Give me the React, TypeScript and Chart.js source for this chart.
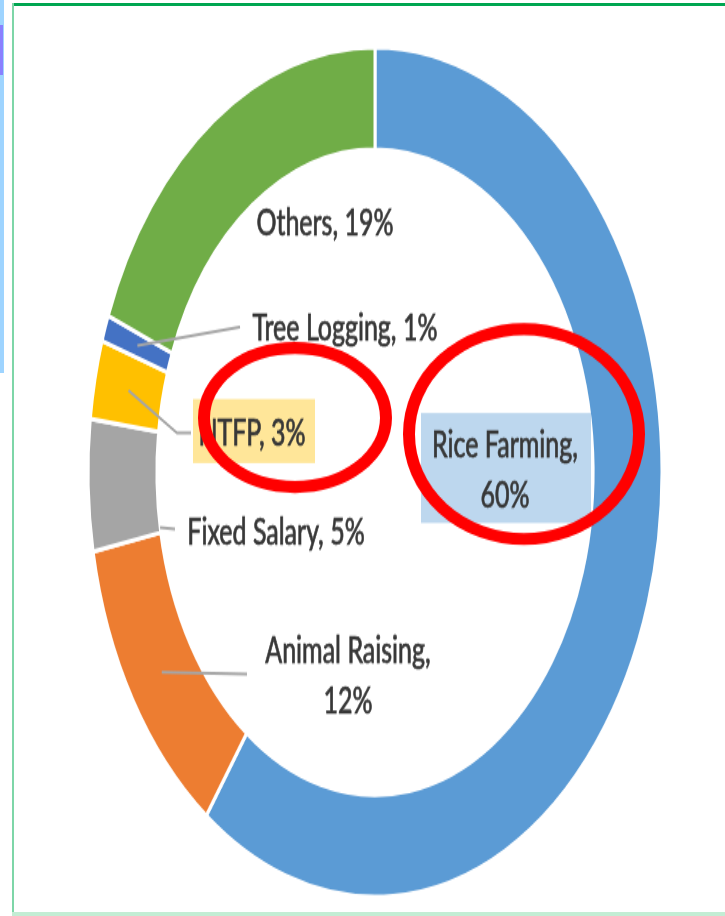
import React, { useEffect, useRef } from "react";
import { Chart, registerables } from "chart.js";

Chart.register(...registerables);

// ---------- DATA ----------
const categories = ["Rice Farming", "Animal Raising", "Fixed Salary", "NTFP", "Tree Logging", "Others"];
const values = [60, 12, 5, 3, 1, 19];
const colors = ["#5B9BD5", "#ED7D31", "#A5A5A5", "#FFC000", "#4472C4", "#70AD47"];

// ---------- LAYOUT ----------
const W = 725;
const DISPLAY_H = 916;
const H = 619; // internal canvas height, stretched vertically by CSS
const SY = DISPLAY_H / H;
const iy = (d: number) => d / SY; // display y -> internal y

const FONT = '25px Lato, "Open Sans", "DejaVu Sans", sans-serif';
const TEXT_COLOR = "#383838";
const LEADER_COLOR = "#A6A6A6";

type LabelLayout = {
  lines: (label: string, v: number) => string[];
  x: number; // center x of text
  baselines: number[]; // display y
  box?: { x0: number; y0: number; x1: number; y1: number; fill: string };
  leader?: { t: number; r: "mid" | "inner"; pts: [number, number][] };
};

const labelLayouts: LabelLayout[] = [
  {
    lines: (c, v) => [c + ",", v + "%"],
    x: 505,
    baselines: [457, 508],
    box: { x0: 421, y0: 413, x1: 591, y1: 523, fill: "#BDD7EE" },
  },
  {
    lines: (c, v) => [c + ",", v + "%"],
    x: 348,
    baselines: [663, 713],
    leader: { t: 0.5, r: "mid", pts: [[247, 674]] },
  },
  {
    lines: (c, v) => [c + ", " + v + "%"],
    x: 276,
    baselines: [544],
    leader: { t: 0.05, r: "inner", pts: [[175, 529]] },
  },
  {
    lines: (c, v) => [c + ", " + v + "%"],
    x: 252,
    baselines: [446],
    box: { x0: 193, y0: 399, x1: 315, y1: 463, fill: "#FFE699" },
    leader: { t: 0.5, r: "mid", pts: [[177, 433], [191, 433]] },
  },
  {
    lines: (c, v) => [c + ", " + v + "%"],
    x: 345,
    baselines: [341],
    leader: { t: 0.5, r: "mid", pts: [[240, 327]] },
  },
  {
    lines: (c, v) => [c + ", " + v + "%"],
    x: 325,
    baselines: [235],
  },
];

const redEllipses = [
  { cx: 295, cy: 417.5, rx: 91, ry: 69.5 },
  { cx: 524, cy: 434, rx: 115, ry: 105 },
];

const overlayPlugin = {
  id: "overlay",
  afterDraw(chart: any) {
    const ctx: CanvasRenderingContext2D = chart.ctx;
    const meta = chart.getDatasetMeta(0);
    ctx.save();
    labelLayouts.forEach((lay, i) => {
      const arc = meta.data[i] as any;
      const p = arc.getProps(["x", "y", "startAngle", "endAngle", "innerRadius", "outerRadius"], true);
      if (lay.box) {
        ctx.fillStyle = lay.box.fill;
        ctx.fillRect(lay.box.x0, iy(lay.box.y0), lay.box.x1 - lay.box.x0, iy(lay.box.y1) - iy(lay.box.y0));
      }
      if (lay.leader) {
        const a = p.startAngle + (p.endAngle - p.startAngle) * lay.leader.t;
        const r = lay.leader.r === "mid" ? (p.innerRadius + p.outerRadius) / 2 : p.innerRadius;
        ctx.beginPath();
        ctx.moveTo(p.x + r * Math.cos(a), p.y + r * Math.sin(a));
        lay.leader.pts.forEach(([x, y]) => ctx.lineTo(x, iy(y)));
        ctx.strokeStyle = LEADER_COLOR;
        ctx.lineWidth = 2;
        ctx.stroke();
      }
      ctx.fillStyle = TEXT_COLOR;
      ctx.strokeStyle = TEXT_COLOR;
      ctx.lineWidth = 0.6;
      ctx.font = FONT;
      ctx.textAlign = "center";
      ctx.textBaseline = "alphabetic";
      const lines = lay.lines(categories[i], values[i]);
      lines.forEach((ln, k) => {
        ctx.fillText(ln, lay.x, iy(lay.baselines[k]));
        ctx.strokeText(ln, lay.x, iy(lay.baselines[k]));
      });
    });
    // red annotation ellipses (drawn in display space so the stroke is even)
    ctx.scale(1, 1 / SY);
    ctx.strokeStyle = "#FF0000";
    ctx.lineWidth = 12;
    redEllipses.forEach((e) => {
      ctx.beginPath();
      ctx.ellipse(e.cx, e.cy, e.rx, e.ry, 0, 0, Math.PI * 2);
      ctx.stroke();
    });
    ctx.restore();
  },
};

export default function App() {
  const ref = useRef<HTMLCanvasElement | null>(null);
  useEffect(() => {
    const canvas = ref.current!;
    const chart = new Chart(canvas, {
      type: "doughnut",
      data: {
        labels: categories,
        datasets: [
          {
            data: values,
            backgroundColor: colors,
            borderColor: "#FFFFFF",
            borderWidth: 3,
          },
        ],
      },
      options: {
        responsive: false,
        animation: false,
        events: [],
        radius: 287,
        cutout: "76%",
        layout: { padding: { left: 88, right: 63, top: 32, bottom: 13 } },
        plugins: { legend: { display: false }, tooltip: { enabled: false } },
      } as any,
      plugins: [overlayPlugin],
    });
    return () => chart.destroy();
  }, []);

  return (
    <div style={{ position: "absolute", left: 0, top: 0, width: W, height: DISPLAY_H, background: "#fff", overflow: "hidden" }}>
      <canvas
        ref={ref}
        width={W}
        height={H}
        style={{ position: "absolute", left: 0, top: 0, width: W + "px", height: DISPLAY_H + "px" }}
      />
      <div style={{ position: "absolute", left: 0, top: 0, width: 4, height: 373, background: "#9ED4FF" }} />
      <div style={{ position: "absolute", left: 0, top: 25, width: 3, height: 50, background: "#8A80FF" }} />
      <div style={{ position: "absolute", left: 12, top: 3, width: W - 12, height: 3, background: "#00A651" }} />
      <div style={{ position: "absolute", left: 12, top: 3, width: 2, height: DISPLAY_H - 3, background: "#7ED6A8" }} />
      <div style={{ position: "absolute", left: 12, top: 912, width: W - 12, height: 4, background: "#C3EDD4" }} />
    </div>
  );
}
